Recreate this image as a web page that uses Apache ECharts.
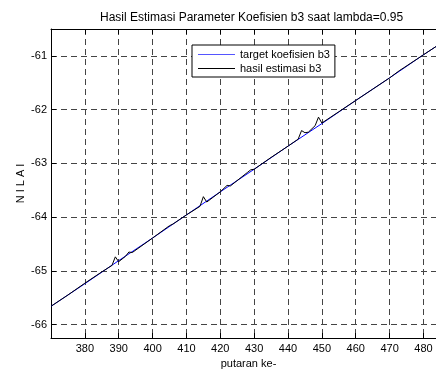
<!DOCTYPE html>
<html>
<head>
<meta charset="utf-8">
<script src="https://cdn.jsdelivr.net/npm/echarts@6/dist/echarts.min.js"></script>
<style>
html,body{margin:0;padding:0;background:#fff;}
#chart{width:436px;height:370px;}
</style>
</head>
<body>
<div id="chart"></div>
<script>
const titleText = 'Hasil Estimasi Parameter Koefisien b3 saat lambda=0.95';
const xAxisName = 'putaran ke-';
const yAxisName = 'N I L A I';
const seriesNames = ['target koefisien b3', 'hasil estimasi b3'];

const xTarget = [370, 380, 390, 400, 410, 420, 430, 440, 450, 460, 470, 480, 487];
const yTarget = [-65.66, -65.24, -64.81, -64.39, -63.96, -63.53, -63.11, -62.68, -62.26, -61.83, -61.41, -60.98, -60.69];

const xEstimate = [370, 375, 380, 385, 388, 389, 390, 392, 393, 394, 400, 405, 406, 410, 414, 415, 416, 420, 422, 423, 428, 429, 430, 435, 440, 443, 444, 445, 446, 448, 449, 450, 455, 460, 465, 470, 473, 474, 480, 487];
const yEstimate = [-65.66, -65.45, -65.23, -65.02, -64.90, -64.74, -64.83, -64.73, -64.65, -64.66, -64.39, -64.16, -64.13, -63.96, -63.80, -63.62, -63.72, -63.53, -63.41, -63.42, -63.17, -63.12, -63.11, -62.89, -62.68, -62.55, -62.39, -62.43, -62.42, -62.30, -62.14, -62.25, -62.04, -61.83, -61.62, -61.41, -61.27, -61.23, -60.98, -60.69];

const xMin = 370, xMax = 486.66, xStep = 10;
const yMin = -66.25, yMax = -60.5;

const font = 'Liberation Sans, Arial, sans-serif';
const chart = echarts.init(document.getElementById('chart'), null, {renderer: 'canvas'});

const gridLine = {show: true, lineStyle: {color: '#444', type: [6, 4], width: 1}};
const legendIcon = 'path://M0,0H37V1H0Z';

chart.setOption({
  animation: false,
  backgroundColor: '#fff',
  title: {
    text: titleText, left: 95, top: 7,
    textStyle: {fontFamily: font, fontSize: 12, fontWeight: 'normal', color: '#000'}
  },
  legend: {
    left: 192, top: 45, orient: 'vertical',
    backgroundColor: '#fff', borderColor: '#000', borderWidth: 1,
    padding: [4, 5, 3, 6], itemGap: 3, itemWidth: 37, itemHeight: 14,
    symbolKeepAspect: true,
    itemStyle: {borderWidth: 0},
    lineStyle: {width: 0},
    textStyle: {fontFamily: font, fontSize: 11, color: '#000'},
    data: [
      {name: seriesNames[0], icon: legendIcon, itemStyle: {color: '#5555ff'}},
      {name: seriesNames[1], icon: legendIcon, itemStyle: {color: '#000'}}
    ]
  },
  grid: {left: 51, top: 29, right: -10, bottom: 32, containLabel: false, outerBoundsMode: 'none'},
  xAxis: [{
    type: 'value', min: xMin, max: xMax, interval: xStep,
    name: xAxisName, nameLocation: 'middle', nameGap: 20, nameMoveOverlap: false,
    nameTextStyle: {fontFamily: font, fontSize: 11, color: '#000'},
    axisLine: {show: true, lineStyle: {color: '#000', width: 1}},
    axisTick: {show: true, inside: true, length: 5, lineStyle: {color: '#000'}},
    axisLabel: {fontFamily: font, fontSize: 11, color: '#000', margin: 5, showMinLabel: false, showMaxLabel: false},
    splitLine: gridLine
  }, {
    type: 'value', position: 'top', min: xMin, max: xMax, interval: xStep,
    axisLine: {show: true, lineStyle: {color: '#000', width: 1}},
    axisTick: {show: true, inside: true, length: 5, lineStyle: {color: '#000'}},
    axisLabel: {show: false},
    splitLine: {show: false}
  }],
  yAxis: {
    type: 'value', min: yMin, max: yMax, splitNumber: 5,
    name: yAxisName, nameLocation: 'middle', nameGap: 25, nameMoveOverlap: false,
    nameTextStyle: {fontFamily: font, fontSize: 11, color: '#000'},
    axisLine: {show: true, lineStyle: {color: '#000', width: 1}},
    axisTick: {show: true, inside: true, length: 5, lineStyle: {color: '#000'}},
    axisLabel: {fontFamily: font, fontSize: 11, color: '#000', margin: 4, showMinLabel: false, showMaxLabel: false,
      formatter: v => (Math.abs(v - Math.round(v)) < 1e-6 ? String(Math.round(v)) : '')},
    splitLine: gridLine
  },
  series: [{
    name: seriesNames[0], type: 'line', xAxisIndex: 0,
    data: xTarget.map((x, i) => [x, yTarget[i]]),
    symbol: 'none', lineStyle: {color: '#0000ff', width: 1}, itemStyle: {color: '#0000ff'}
  }, {
    name: seriesNames[1], type: 'line', xAxisIndex: 0,
    data: xEstimate.map((x, i) => [x, yEstimate[i]]),
    symbol: 'none', lineStyle: {color: '#000', width: 1}, itemStyle: {color: '#000'}
  }]
});
</script>
</body>
</html>
